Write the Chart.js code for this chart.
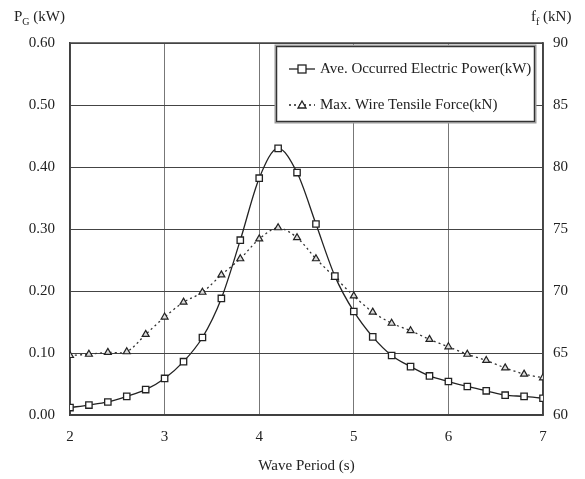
<!DOCTYPE html>
<html>
<head>
<meta charset="utf-8">
<script src="https://cdn.jsdelivr.net/npm/chart.js@4.4.7/dist/chart.umd.min.js"></script>
<style>
    html, body { margin: 0; padding: 0; background: #fff; }
    #wrap { position: relative; width: 585px; height: 479px; }
    .axt { position: absolute; font-family: "Liberation Serif", serif; font-size: 15px; color: #222; white-space: nowrap; }
    .axt sub { font-size: 10px; }
</style>
</head>
<body>
<div id="wrap">
    <canvas id="chart" width="585" height="479"></canvas>
    <div class="axt" style="left:14px; top:8px;">P<sub>G</sub> (kW)</div>
    <div class="axt" style="left:531px; top:8px;">f<sub>f</sub> (kN)</div>
</div>
<script>
// wave period (s)
const periods = [2.0, 2.2, 2.4, 2.6, 2.8, 3.0, 3.2, 3.4, 3.6, 3.8, 4.0, 4.2, 4.4,
                 4.6, 4.8, 5.0, 5.2, 5.4, 5.6, 5.8, 6.0, 6.2, 6.4, 6.6, 6.8, 7.0];
// average electric power (kW)
const powerKW = [0.012, 0.016, 0.021, 0.030, 0.041, 0.059, 0.086, 0.125, 0.188, 0.282, 0.382, 0.430, 0.391,
                 0.308, 0.224, 0.167, 0.126, 0.096, 0.078, 0.063, 0.054, 0.046, 0.039, 0.032, 0.030, 0.027];
// max wire tensile force (kN)
const forceKN = [64.8, 64.9, 65.05, 65.1, 66.5, 67.9, 69.1, 69.9, 71.3, 72.6, 74.2, 75.1, 74.3,
                 72.6, 71.1, 69.6, 68.3, 67.4, 66.8, 66.1, 65.5, 64.9, 64.4, 63.8, 63.3, 63.0];
const seriesLabels = ["Ave. Occurred Electric Power(kW)", "Max. Wire Tensile Force(kN)"];

const serif = "'Liberation Serif', 'Times New Roman', serif";

// legend box drawn inside the plot, top right
const boxLegend = {
    id: "boxLegend",
    afterDraw(chart) {
        const ctx = chart.ctx;
        const x = 276, y = 46, w = 259, h = 76;
        ctx.save();
        ctx.fillStyle = "#fff";
        ctx.fillRect(x, y, w, h);
        ctx.strokeStyle = "#999";
        ctx.lineWidth = 3;
        ctx.strokeRect(x, y, w, h);
        ctx.strokeStyle = "#333";
        ctx.lineWidth = 1;
        ctx.strokeRect(x + 0.5, y + 0.5, w - 1, h - 1);
        ctx.font = "15px " + serif;
        ctx.fillStyle = "#222";
        ctx.textBaseline = "middle";
        const rows = [69, 105];
        chart.data.datasets.forEach((ds, i) => {
            const cy = rows[i];
            ctx.strokeStyle = "#222";
            ctx.lineWidth = 1.3;
            ctx.setLineDash(ds.borderDash || []);
            ctx.beginPath();
            ctx.moveTo(289, cy);
            ctx.lineTo(315, cy);
            ctx.stroke();
            ctx.setLineDash([]);
            if (i === 0) {
                ctx.fillStyle = "#fff";
                ctx.fillRect(298, cy - 4, 8, 8);
                ctx.strokeRect(298, cy - 4, 8, 8);
            } else {
                ctx.fillStyle = "#fff";
                ctx.beginPath();
                ctx.moveTo(302, cy - 4);
                ctx.lineTo(306, cy + 3);
                ctx.lineTo(298, cy + 3);
                ctx.closePath();
                ctx.fill();
                ctx.stroke();
            }
            ctx.fillStyle = "#222";
            ctx.fillText(ds.label, 320, cy);
        });
        ctx.restore();
    }
};

// plot frame on top/right
const frame = {
    id: "frame",
    beforeDatasetsDraw(chart) {
        const a = chart.chartArea, ctx = chart.ctx;
        ctx.save();
        ctx.strokeStyle = "#444";
        ctx.lineWidth = 1.5;
        ctx.strokeRect(a.left, a.top, a.right - a.left, a.bottom - a.top);
        ctx.restore();
    }
};

new Chart(document.getElementById("chart"), {
    type: "line",
    data: {
        datasets: [
            {
                label: seriesLabels[0],
                data: periods.map((p, i) => ({ x: p, y: powerKW[i] })),
                yAxisID: "y",
                borderColor: "#222",
                borderWidth: 1.3,
                tension: 0.4,
                cubicInterpolationMode: "monotone",
                pointStyle: "rect",
                pointRadius: 4.5,
                pointBackgroundColor: "#fff",
                pointBorderColor: "#222",
                pointBorderWidth: 1.3,
            },
            {
                label: seriesLabels[1],
                data: periods.map((p, i) => ({ x: p, y: forceKN[i] })),
                yAxisID: "y1",
                borderColor: "#333",
                borderWidth: 1.3,
                borderDash: [2, 3],
                tension: 0.3,
                pointStyle: "triangle",
                pointRadius: 4,
                pointBackgroundColor: "#ddd",
                pointBorderColor: "#222",
                pointBorderWidth: 1.2,
            },
        ],
    },
    options: {
        responsive: false,
        animation: false,
        layout: { padding: { top: 43, left: 0, right: 0, bottom: 0 } },
        plugins: { legend: { display: false }, tooltip: { enabled: false } },
        scales: {
            x: {
                type: "linear",
                min: 2, max: 7,
                ticks: { stepSize: 1, padding: 13, color: "#222", font: { family: serif, size: 15 } },
                grid: { color: "#777", lineWidth: 1, drawTicks: false },
                border: { color: "#333", width: 1.5 },
                title: { display: true, text: "Wave Period (s)", color: "#222", padding: { top: 0 },
                         font: { family: serif, size: 15 } },
                afterFit(s) { s.height = 64; },
            },
            y: {
                position: "left",
                min: 0, max: 0.6,
                ticks: { stepSize: 0.1, padding: 15, color: "#222", font: { family: serif, size: 15 },
                         callback: v => v.toFixed(2) },
                grid: { color: "#444", lineWidth: 1, drawTicks: false },
                border: { color: "#333", width: 1.5 },
                afterFit(s) { s.width = 70; },
            },
            y1: {
                position: "right",
                min: 60, max: 90,
                ticks: { stepSize: 5, padding: 10, color: "#222", font: { family: serif, size: 15 } },
                grid: { display: false, drawTicks: false },
                border: { color: "#444", width: 1.5 },
                afterFit(s) { s.width = 42; },
            },
        },
    },
    plugins: [frame, boxLegend],
});
</script>
</body>
</html>
